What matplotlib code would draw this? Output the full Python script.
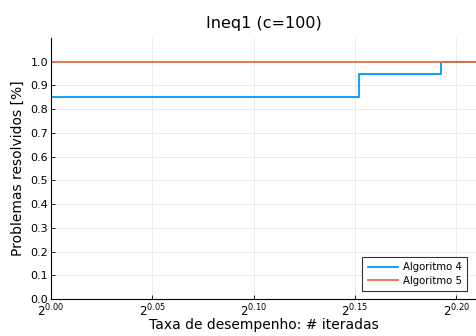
import numpy as np
import matplotlib
matplotlib.use("Agg")
import matplotlib.pyplot as plt

# perfil de desempenho: razoes (t) e fracao de problemas resolvidos
razoes_alg4 = [1.0, 10 / 9, 8 / 7, 2 ** 0.21]
frac_alg4 = [0.85, 0.95, 1.0, 1.0]
razoes_alg5 = [1.0, 2 ** 0.21]
frac_alg5 = [1.0, 1.0]
expoentes = [0.00, 0.05, 0.10, 0.15, 0.20]
yticks = np.round(np.arange(0, 1.01, 0.1), 1)

fig = plt.figure(figsize=(4.77, 3.36), dpi=100)
ax = fig.add_axes([0.107, 0.110, 0.891, 0.777])

ax.step(razoes_alg4, frac_alg4, where="post", color="#009AFA", lw=1.3, label="Algoritmo 4")
ax.step(razoes_alg5, frac_alg5, where="post", color="#E26F46", lw=1.3, label="Algoritmo 5")

ax.set_xscale("log", base=2)
ax.set_xlim(1.0, 2 ** 0.2098)
ax.set_ylim(0, 1.1)
ax.set_xticks([2 ** e for e in expoentes])
ax.set_xticklabels(["$2^{%.2f}$" % e for e in expoentes])
ax.xaxis.set_minor_locator(matplotlib.ticker.NullLocator())
ax.set_yticks(yticks)
ax.set_yticklabels(["%.1f" % v for v in yticks])
ax.tick_params(labelsize=8, length=3, width=0.6, direction="in", pad=2)
ax.tick_params(axis="x", labelsize=8.5, pad=2.5)
ax.grid(True, color="#e8e8e8", lw=0.6)
ax.set_axisbelow(True)
for s in ["top", "right"]:
    ax.spines[s].set_visible(False)
for s in ["left", "bottom"]:
    ax.spines[s].set_linewidth(0.8)

ax.set_title("Ineq1 (c=100)", fontsize=11.5, pad=7)
ax.set_xlabel("Taxa de desempenho: # iteradas", fontsize=10, labelpad=-1)
ax.set_ylabel("Problemas resolvidos [%]", fontsize=10)

leg = ax.legend(loc="lower right", bbox_to_anchor=(0.979, 0.031), borderaxespad=0,
                fontsize=7.3, fancybox=False, edgecolor="#333333", framealpha=1,
                handlelength=3, handletextpad=0.5, borderpad=0.5, labelspacing=0.35)
leg.get_frame().set_linewidth(0.8)

plt.savefig("out.png", dpi=100)
